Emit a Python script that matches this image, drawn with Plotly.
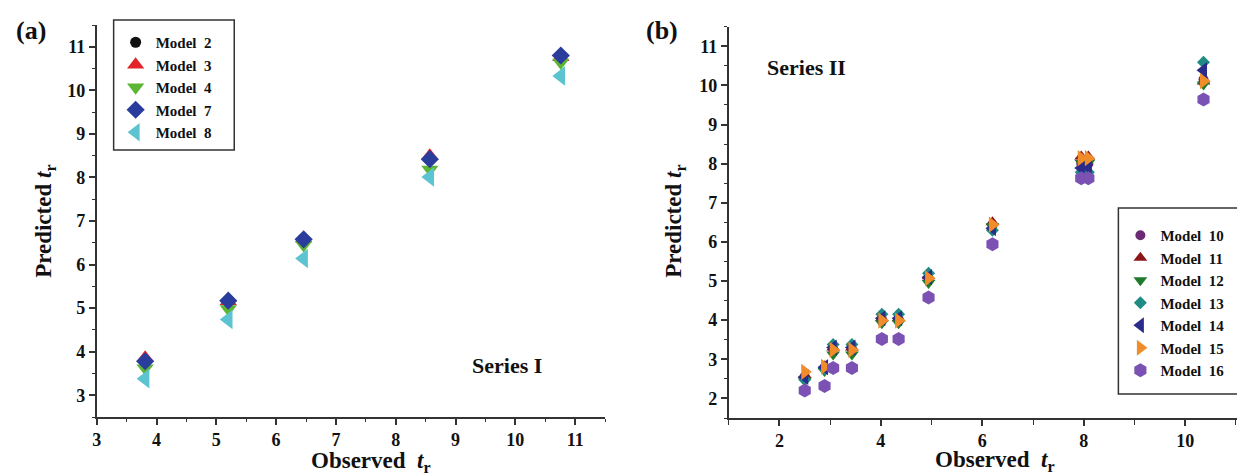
import plotly.graph_objects as go

W, H = 1237, 473
SERIF = "Liberation Serif"

# ---------------- Data: Series I (panel a) ----------------
obs_a = [3.81, 5.20, 6.46, 8.57, 10.76]
model2 = [3.78, 5.17, 6.57, 8.42, 10.80]
model3 = [3.86, 5.16, 6.60, 8.50, 10.76]
model4 = [3.62, 4.98, 6.45, 8.18, 10.64]
model7 = [3.78, 5.17, 6.58, 8.42, 10.80]
model8 = [3.38, 4.74, 6.14, 8.01, 10.33]

# ---------------- Data: Series II (panel b) ----------------
obs_b = [2.50, 2.89, 3.06, 3.43, 4.02, 4.35, 4.94, 6.20, 7.95, 8.09, 10.36]
model10 = [2.55, 2.78, 3.25, 3.25, 4.02, 4.02, 5.05, 6.42, 8.00, 8.00, 10.15]
model11 = [2.60, 2.82, 3.30, 3.30, 4.05, 4.05, 5.12, 6.50, 8.18, 8.18, 10.10]
model12 = [2.45, 2.70, 3.12, 3.12, 3.92, 3.92, 4.95, 6.40, 8.02, 8.02, 10.02]
model13 = [2.48, 2.75, 3.38, 3.38, 4.15, 4.15, 5.20, 6.30, 7.78, 7.78, 10.59]
model14 = [2.55, 2.80, 3.30, 3.30, 4.05, 4.05, 5.10, 6.35, 7.89, 7.90, 10.39]
model15 = [2.68, 2.81, 3.24, 3.24, 3.99, 3.99, 5.07, 6.44, 8.14, 8.14, 10.11]
model16 = [2.20, 2.32, 2.78, 2.78, 3.52, 3.52, 4.58, 5.94, 7.63, 7.63, 9.64]

ticks_a = [3, 4, 5, 6, 7, 8, 9, 10, 11]
ticks_bx = [2, 4, 6, 8, 10]
ticks_by = [2, 3, 4, 5, 6, 7, 8, 9, 10, 11]

series_a = [
    ("Model\u00a0\u00a02", model2, "circle", 11, "#111111"),
    ("Model\u00a0\u00a03", model3, "triangle-up", 15, "#e3222a"),
    ("Model\u00a0\u00a04", model4, "triangle-down", 15, "#5cb533"),
    ("Model\u00a0\u00a07", model7, "diamond", 14, "#2b3d9c"),
    ("Model\u00a0\u00a08", model8, "triangle-left", 17, "#5cc4d1"),
]
series_b = [
    ("Model\u00a0\u00a010", model10, "circle", 10, "#6b2a74"),
    ("Model\u00a0\u00a011", model11, "triangle-up", 12, "#8b1518"),
    ("Model\u00a0\u00a012", model12, "triangle-down", 12, "#1f7a2c"),
    ("Model\u00a0\u00a013", model13, "diamond", 10, "#1f8c84"),
    ("Model\u00a0\u00a014", model14, "triangle-left", 14, "#2b2b8c"),
    ("Model\u00a0\u00a015", model15, "triangle-right", 14, "#f08c2a"),
    ("Model\u00a0\u00a016", model16, "hexagon", 14, "#7b52b3"),
]

fig = go.Figure()
for name, ys, sym, size, col in series_a:
    fig.add_trace(go.Scatter(x=obs_a, y=ys, mode="markers", name=name,
                             marker=dict(symbol=sym, size=size, color=col, line=dict(width=0)),
                             xaxis="x", yaxis="y", legend="legend"))
for name, ys, sym, size, col in series_b:
    fig.add_trace(go.Scatter(x=obs_b, y=ys, mode="markers", name=name,
                             marker=dict(symbol=sym, size=size, color=col, line=dict(width=0)),
                             xaxis="x2", yaxis="y2", legend="legend2"))

def px(x):
    return x / W

def py(y):
    return 1 - y / H

axis_common = dict(
    showline=True, linecolor="#333333", linewidth=1.5, mirror=False,
    showgrid=False, zeroline=False,
    ticks="outside", ticklen=6, tickwidth=1.5, tickcolor="#333333",
    tickfont=dict(family=SERIF, size=18, color="#111111", weight="bold"),
)

fig.update_layout(
    width=W, height=H,
    margin=dict(l=0, r=0, t=0, b=0),
    paper_bgcolor="white", plot_bgcolor="white",
    showlegend=True,
    xaxis=dict(domain=[px(93), px(603)], range=[3, 11.5], anchor="y",
               tickvals=ticks_a,
               minor=dict(dtick=0.5, ticks="outside", ticklen=3, tickwidth=1.2, tickcolor="#333333"),
               **axis_common),
    yaxis=dict(domain=[py(417), py(25)], range=[2.5, 11.5], anchor="x",
               tickvals=ticks_a,
               minor=dict(dtick=0.5, ticks="outside", ticklen=3, tickwidth=1.2, tickcolor="#333333"),
               **axis_common),
    xaxis2=dict(domain=[px(727), 1.0], range=[1, 11.02], anchor="y2",
                tickvals=ticks_bx,
                minor=dict(dtick=1, tick0=1, ticks="outside", ticklen=5, tickwidth=1.2, tickcolor="#333333"),
                **axis_common),
    yaxis2=dict(domain=[py(418), py(26.7)], range=[1.5, 11.5], anchor="x2",
                tickvals=ticks_by,
                minor=dict(dtick=0.5, ticks="outside", ticklen=3, tickwidth=1.2, tickcolor="#333333"),
                **axis_common),
    legend=dict(x=px(112), y=py(26), xanchor="left", yanchor="top",
                bgcolor="rgba(0,0,0,0)", borderwidth=0,
                font=dict(family=SERIF, size=15, color="#111111", weight="bold"),
                itemwidth=30, tracegroupgap=0),
    legend2=dict(x=px(1120), y=py(219), xanchor="left", yanchor="top",
                 bgcolor="rgba(0,0,0,0)", borderwidth=0,
                 font=dict(family=SERIF, size=15, color="#111111", weight="bold"),
                 itemwidth=30, tracegroupgap=0),
)

# legend frames
fig.add_shape(type="rect", xref="paper", yref="paper",
              x0=px(110), x1=px(231), y0=py(150), y1=py(20),
              line=dict(color="#333333", width=1.5), fillcolor="rgba(0,0,0,0)")
fig.add_shape(type="rect", xref="paper", yref="paper",
              x0=px(1118), x1=px(1245), y0=py(394), y1=py(208),
              line=dict(color="#333333", width=1.5), fillcolor="rgba(0,0,0,0)")

def ann(text, x, y, size, angle=0):
    fig.add_annotation(text=text, xref="paper", yref="paper", x=px(x), y=py(y),
                       xanchor="center", yanchor="middle", showarrow=False, textangle=angle,
                       font=dict(family=SERIF, size=size, color="#111111", weight="bold"))

ann("(a)", 27, 30, 26)
ann("(b)", 660, 30, 26)
ann("Series I", 505, 365, 22)
ann("Series II", 805, 67, 22)
ann("Observed\u00a0\u00a0<i>t</i><sub>r</sub>", 368, 462, 23)
ann("Observed\u00a0\u00a0<i>t</i><sub>r</sub>", 994, 461, 23)
ann("Predicted <i>t</i><sub>r</sub>", 41, 221, 23, -90)
ann("Predicted <i>t</i><sub>r</sub>", 673, 221, 23, -90)

fig.write_html("out.html")
